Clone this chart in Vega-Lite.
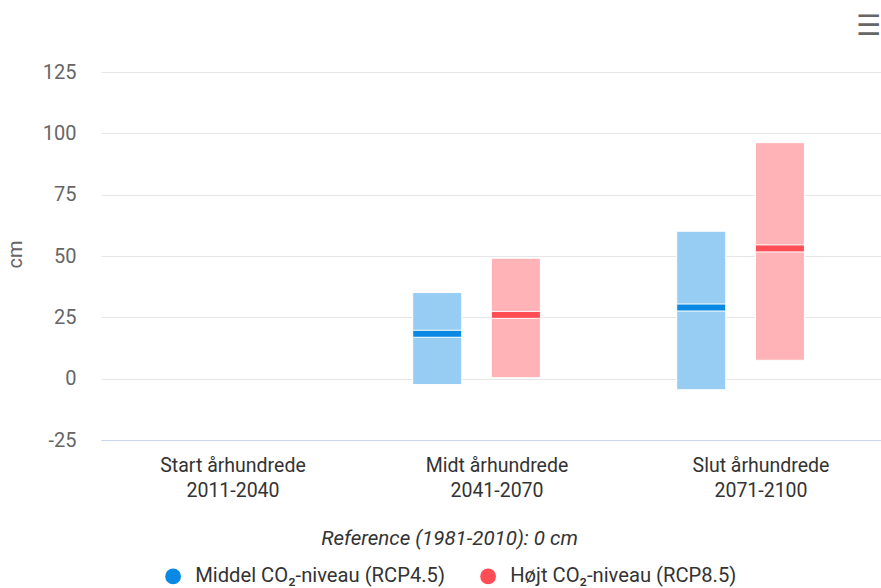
{
  "$schema": "https://vega.github.io/schema/vega-lite/v6.json",
  "width": 792,
  "height": 368,
  "autosize": {"type": "none"},
  "padding": {"left": 101, "top": 72, "right": 0, "bottom": 148},
  "background": "white",
  "title": {
    "text": "☰",
    "anchor": "end",
    "dx": -12,
    "offset": 21,
    "fontSize": 28,
    "color": "#666666",
    "font": "DejaVu Sans",
    "fontWeight": "normal"
  },
  "config": {
    "font": "Roboto",
    "view": {"stroke": null},
    "axis": {"grid": false, "ticks": false}
  },
  "data": {
    "values": [
      {"periode": "Midt århundrede 2041-2070", "scenarie": "Middel CO₂-niveau (RCP4.5)", "lav": -2.4, "median": 18.3, "hoej": 35.1},
      {"periode": "Midt århundrede 2041-2070", "scenarie": "Højt CO₂-niveau (RCP8.5)", "lav": 0.4, "median": 26.0, "hoej": 49.1},
      {"periode": "Slut århundrede 2071-2100", "scenarie": "Middel CO₂-niveau (RCP4.5)", "lav": -4.5, "median": 29.0, "hoej": 60.1},
      {"periode": "Slut århundrede 2071-2100", "scenarie": "Højt CO₂-niveau (RCP8.5)", "lav": 7.5, "median": 53.1, "hoej": 96.2}
    ]
  },
  "encoding": {
    "x": {
      "field": "periode",
      "type": "nominal",
      "sort": null,
      "scale": {
        "domain": ["Start århundrede 2011-2040", "Midt århundrede 2041-2070", "Slut århundrede 2071-2100"],
        "paddingInner": 0,
        "paddingOuter": 0
      },
      "axis": {
        "title": "Reference (1981-2010): 0 cm",
        "titleFontStyle": "italic",
        "titleFontWeight": "normal",
        "titleFontSize": 20.5,
        "titleColor": "#333333",
        "titlePadding": 29,
        "titleX": 348,
        "titleAnchor": "middle",
        "titleAlign": "center",
        "labelAngle": 0,
        "labelExpr": "[slice(datum.label, 0, -10), slice(datum.label, -9)]",
        "labelFontSize": 19.5,
        "labelLineHeight": 25,
        "labelColor": "#333333",
        "labelPadding": 16,
        "domainColor": "#ccd6eb",
        "domainWidth": 1
      }
    },
    "xOffset": {
      "field": "scenarie",
      "type": "nominal",
      "sort": null,
      "scale": {
        "domain": ["Middel CO₂-niveau (RCP4.5)", "Højt CO₂-niveau (RCP8.5)"],
        "paddingInner": 0.377,
        "paddingOuter": 0.866,
        "align": 0.35
      }
    },
    "color": {
      "field": "scenarie",
      "type": "nominal",
      "scale": {
        "domain": ["Middel CO₂-niveau (RCP4.5)", "Højt CO₂-niveau (RCP8.5)"],
        "range": ["#0a89e4", "#ff4d55"]
      },
      "legend": {
        "title": null,
        "orient": "none",
        "direction": "horizontal",
        "legendX": 62,
        "legendY": 494,
        "symbolType": "circle",
        "symbolSize": 250,
        "symbolStrokeWidth": 0,
        "symbolOpacity": 1,
        "labelFontSize": 20.2,
        "labelLimit": 500,
        "labelColor": "#333333",
        "labelOffset": 12,
        "columnPadding": 33
      }
    }
  },
  "layer": [
    {
      "mark": {"type": "bar", "fill": "white", "stroke": "white", "strokeWidth": 1},
      "encoding": {
        "color": {"value": "white"},
        "y": {
          "field": "lav",
          "type": "quantitative",
          "scale": {"domain": [-25, 125], "nice": false, "zero": false},
          "axis": {
            "title": "cm",
            "titleFontSize": 20,
            "titleFontWeight": "normal",
            "titleColor": "#666666",
            "titleX": -76,
            "titleY": 182,
            "values": [-25, 0, 25, 50, 75, 100, 125],
            "labelExpr": "datum.value + ''",
            "grid": true,
            "gridColor": "#e6e6e6",
            "gridWidth": 1,
            "domain": false,
            "labelFontSize": 20,
            "labelColor": "#666666",
            "labelPadding": 25
          }
        },
        "y2": {"field": "hoej"}
      }
    },
    {
      "mark": {"type": "bar", "opacity": 0.42, "stroke": "white", "strokeWidth": 1},
      "encoding": {
        "y": {"field": "lav", "type": "quantitative"},
        "y2": {"field": "hoej"}
      }
    },
    {
      "mark": {"type": "tick", "thickness": 7, "size": 49, "stroke": "white", "strokeWidth": 1, "opacity": 1},
      "encoding": {
        "y": {"field": "median", "type": "quantitative"}
      }
    }
  ]
}
